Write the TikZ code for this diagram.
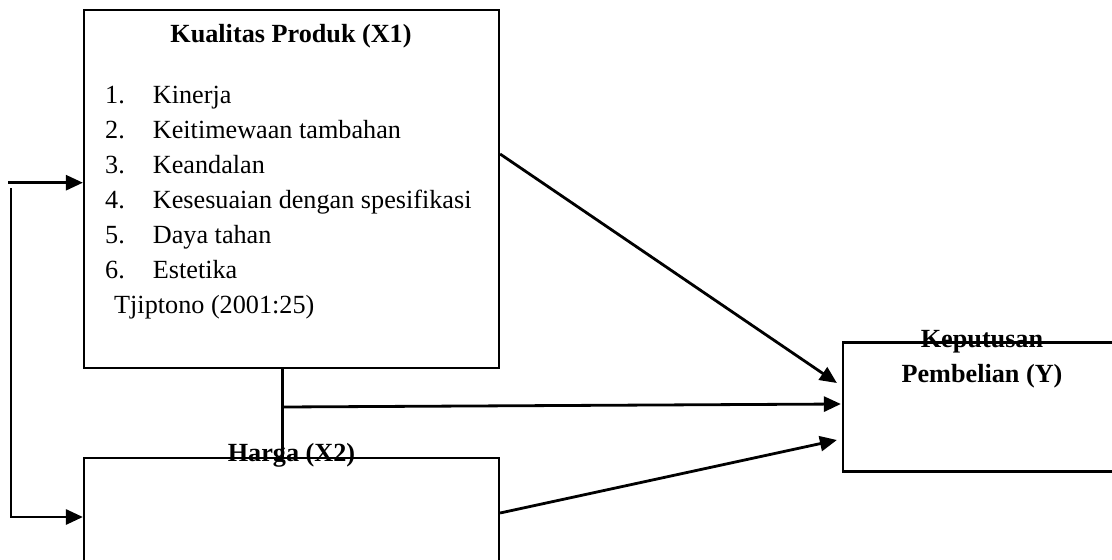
\documentclass[tikz,border=0pt]{standalone}
\usepackage{fontspec}
\setmainfont{Liberation Serif}
\usetikzlibrary{positioning}
\usetikzlibrary{arrows.meta}

\begin{document}
\begin{tikzpicture}[x=1pt, y=-1pt, font=\fontsize{26.2}{35}\selectfont,
    box/.style = {draw, line width=2.2pt, inner sep=0pt},
    head/.style = {font=\fontsize{26.2}{35}\selectfont\bfseries, anchor=base, inner sep=0pt},
    item/.style = {anchor=base west, inner sep=0pt},
    link/.style = {line width=2.8pt, -{Triangle[length=17pt, width=15pt]}}]
    \clip (0,0) rectangle (1112,560);
    \node[box, minimum width=415pt, minimum height=358pt] (X1) at (291.5,189) {};
    \node[box, minimum width=415pt, minimum height=162pt] (X2) at (291.5,539) {};
    \node[box, minimum width=297pt, minimum height=129pt] (Y) at (991.5,407) {};
    \node[head] (X1t) at (291,42.5) {Kualitas Produk (X1)};
    \foreach \i/\t in {1/Kinerja, 2/Keitimewaan tambahan, 3/Keandalan, 4/Kesesuaian dengan spesifikasi, 5/Daya tahan, 6/Estetika} {
        \node[item] (num\i) at (105,{103.5+35*(\i-1)}) {\i.};
        \node[item] (dim\i) at (152.7,{103.5+35*(\i-1)}) {\t};
    }
    \node[item] (src) at (114,313.5) {Tjiptono (2001:25)};
    \node[head] (X2t) at (291.5,461) {Harga (X2)};
    \node[head] (Yt1) at (982,347) {Keputusan};
    \node[head] (Yt2) at (982,382) {Pembelian (Y)};
    \coordinate (in1) at (8,182.7);
    \coordinate (in2) at (11,188);
    \coordinate (split) at (282.5,407);
    \draw[link] (in1) -- (in1 -| X1.west);
    \draw[link] (in2) |- ([yshift=22pt]X2.west);
    \draw[line width=2.2pt] ([xshift=-9pt]X1.south) -- ([xshift=-9pt]X2.north);
    \draw[link] ([yshift=35pt]X1.east) -- ([xshift=-5pt, yshift=24pt]Y.west);
    \draw[link] (split) -- ([xshift=-1pt, yshift=3pt]Y.west);
    \draw[link] ([yshift=26pt]X2.east) -- ([xshift=-5pt, yshift=-33pt]Y.west);
\end{tikzpicture}
\end{document}
